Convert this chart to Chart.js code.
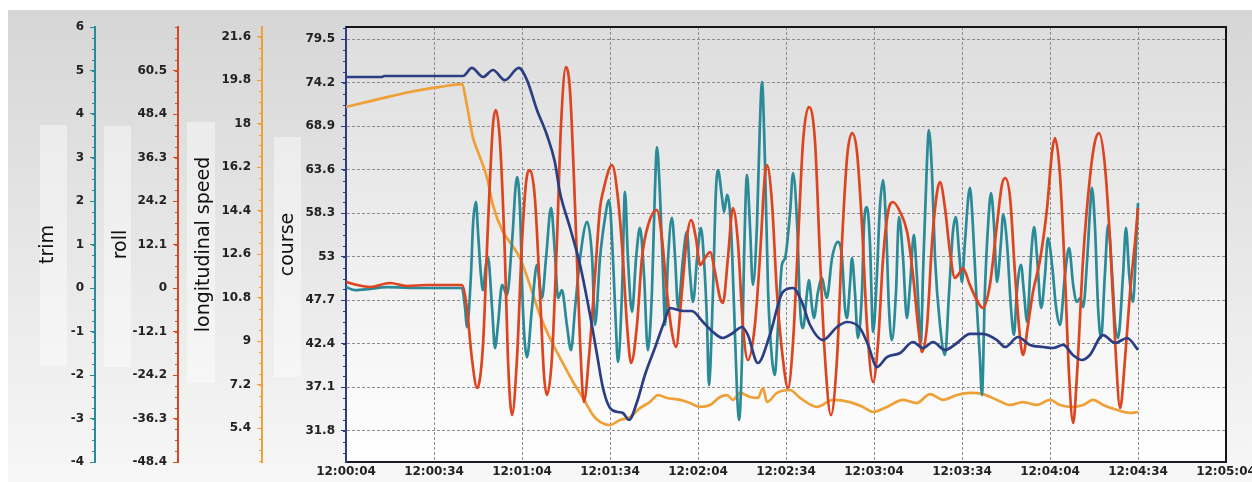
<!DOCTYPE html>
<html>
<head>
<meta charset="utf-8">
<script src="https://cdn.jsdelivr.net/npm/chart.js@4.4.1/dist/chart.umd.min.js"></script>
<style>
  html, body { margin: 0; padding: 0; background: #fff; }
  #wrap { width: 1252px; height: 482px; }
</style>
</head>
<body>
<div id="wrap"><canvas id="shipChart" width="1252" height="482"></canvas></div>
<script>
// Series: [seconds after 12:00:00, value]
const trimPoints = [[4.0,0.02],[7.1,-0.05],[12.2,-0.02],[18.0,0.02],[29.2,0.0],[43.5,0.0],[44.6,-0.46],[45.2,-0.9],[46.6,0.3],[47.3,1.45],[48.3,1.98],[49.0,1.29],[50.0,0.3],[50.7,-0.05],[51.7,0.53],[52.4,0.71],[53.8,-0.46],[54.8,-1.38],[55.8,-0.85],[57.2,0.07],[58.9,-0.16],[60.6,1.06],[62.3,2.55],[63.3,1.84],[64.3,-0.46],[65.7,-1.59],[67.4,-0.46],[69.1,0.53],[70.8,-0.23],[72.2,0.69],[73.9,1.84],[75.2,0.83],[76.3,-0.23],[77.6,-0.05],[79.3,-0.85],[80.7,-1.43],[82.1,-0.46],[83.8,0.69],[86.2,1.52],[87.9,0.69],[88.9,-0.85],[90.6,0.69],[92.3,1.61],[93.7,2.02],[95.0,0.69],[96.0,-0.85],[96.7,-1.7],[98.1,-0.09],[99.1,2.21],[100.1,0.69],[101.5,-0.55],[102.9,0.69],[104.2,1.38],[105.6,0.3],[106.9,-1.43],[108.3,-0.09],[109.3,2.21],[110.0,3.24],[111.0,2.21],[112.1,0.3],[112.8,-0.85],[113.8,0.69],[115.1,1.61],[116.2,0.69],[117.2,-0.46],[118.9,0.69],[120.2,1.29],[121.3,0.3],[122.3,-0.32],[123.7,0.69],[125.0,1.38],[126.0,0.69],[127.1,-0.85],[127.7,-2.23],[129.1,-0.09],[130.1,2.21],[130.8,2.71],[132.2,2.07],[132.9,1.75],[133.9,2.14],[135.2,1.45],[136.3,-0.46],[137.3,-2.39],[138.0,-3.03],[139.0,-1.61],[139.7,0.69],[140.7,2.6],[141.7,1.45],[142.7,0.07],[144.1,1.45],[145.1,3.75],[145.8,4.74],[146.8,2.99],[147.9,-0.09],[149.2,-1.61],[150.2,-2.0],[151.3,-0.85],[152.6,0.53],[153.7,0.69],[155.4,1.75],[156.4,2.64],[157.8,1.45],[158.8,-0.46],[159.8,-0.92],[161.2,-0.09],[161.8,0.18],[162.9,-0.46],[163.5,-0.69],[164.9,-0.09],[166.3,0.23],[167.3,-0.09],[167.9,-0.23],[169.7,0.69],[171.7,1.06],[173.1,0.69],[174.1,-0.46],[174.8,-0.69],[175.8,0.07],[176.5,0.69],[177.5,-0.09],[178.5,-1.15],[179.9,-0.09],[180.6,1.45],[181.6,1.86],[182.6,1.06],[183.7,-1.01],[185.0,0.3],[186.0,1.84],[187.1,2.48],[188.1,1.45],[189.1,-0.46],[190.1,-1.2],[191.5,-0.09],[192.5,1.63],[193.9,0.69],[195.2,-0.69],[196.3,0.07],[197.6,1.22],[198.6,0.3],[200.0,-1.24],[200.7,0.3],[202.1,2.99],[202.7,3.63],[203.8,2.6],[204.8,0.69],[206.5,-0.85],[208.2,-1.54],[209.6,-0.09],[210.9,1.29],[211.9,1.63],[213.0,0.83],[214.0,0.14],[215.0,1.06],[216.7,2.3],[217.7,1.45],[219.1,-0.46],[220.1,-1.61],[220.8,-2.46],[221.8,-0.09],[222.9,1.45],[223.9,2.18],[224.9,1.45],[225.9,0.14],[227.3,1.06],[228.0,1.68],[229.3,1.06],[230.7,-0.46],[231.7,-1.08],[232.7,-0.09],[234.1,0.53],[235.1,-0.09],[236.2,-0.78],[237.5,0.69],[238.6,1.4],[239.6,0.69],[241.0,-0.46],[242.3,0.3],[243.3,1.15],[244.7,0.53],[246.1,-0.46],[247.4,-0.85],[249.1,0.3],[250.5,0.92],[251.9,0.07],[253.2,-0.32],[254.3,-0.23],[255.3,-0.44],[256.7,0.69],[257.7,1.84],[258.3,2.3],[259.3,1.45],[260.4,-0.46],[261.4,-1.15],[262.7,0.3],[263.8,1.45],[265.2,0.3],[266.2,-0.85],[267.2,-1.15],[268.9,0.3],[269.9,1.38],[271.0,0.3],[272.3,-0.32],[273.4,1.06],[274.0,1.95]];

const rollPoints = [[4.0,1.7],[7.8,0.83],[12.2,0.28],[19.0,1.39],[24.8,0.56],[31.6,0.83],[36.0,0.83],[43.5,0.83],[45.2,-5.56],[46.9,-19.47],[48.7,-27.82],[50.7,-15.86],[52.4,17.52],[54.1,45.34],[55.1,49.51],[56.5,40.61],[58.2,8.34],[59.2,-19.47],[60.6,-35.33],[62.3,-19.47],[64.0,12.8],[65.4,29.48],[66.7,32.82],[68.4,25.03],[70.1,-1.11],[71.5,-24.2],[72.5,-29.76],[74.2,-19.47],[75.9,12.8],[77.3,45.34],[79.0,61.47],[80.4,54.52],[82.1,22.25],[83.8,-15.02],[85.1,-31.71],[86.8,-19.47],[88.9,3.62],[90.6,22.25],[91.6,26.7],[94.7,34.21],[96.7,25.03],[98.4,8.34],[99.8,-10.29],[101.2,-20.86],[103.2,-10.29],[104.9,8.34],[107.0,17.52],[110.0,21.7],[111.7,13.91],[113.4,-1.11],[115.1,-12.24],[116.5,-16.41],[118.5,-1.11],[120.2,13.91],[121.6,18.91],[123.3,13.91],[124.7,6.4],[126.4,8.34],[128.1,10.01],[129.8,4.45],[131.5,-2.78],[132.5,-4.17],[134.2,8.34],[135.9,22.25],[137.6,12.8],[139.3,-10.29],[141.0,-20.03],[143.4,-10.29],[145.1,8.34],[146.8,31.43],[147.5,34.21],[149.2,23.92],[150.9,-1.11],[152.9,-19.47],[154.7,-27.82],[156.4,-15.02],[158.1,12.8],[159.8,40.61],[161.8,50.35],[163.9,40.61],[165.6,8.34],[167.3,-19.47],[169.3,-35.33],[171.4,-19.47],[173.1,12.8],[174.8,36.16],[176.5,43.11],[178.2,37.83],[179.9,17.52],[181.6,-10.29],[183.7,-26.15],[185.4,-15.02],[187.1,8.34],[188.8,21.14],[190.5,23.92],[192.9,21.14],[195.3,15.58],[197.3,3.62],[199.0,-10.29],[200.4,-17.8],[202.1,-10.29],[203.8,12.8],[205.5,26.7],[206.5,29.48],[208.2,22.25],[209.9,10.01],[211.6,2.78],[213.3,4.45],[214.3,5.56],[216.7,0.83],[219.4,-3.89],[221.1,-5.56],[223.5,0.83],[225.9,17.52],[227.6,28.65],[228.7,30.6],[230.4,25.03],[232.1,3.62],[233.8,-13.91],[234.8,-18.64],[236.5,-10.29],[238.2,-1.11],[240.6,7.79],[243.0,22.25],[244.7,37.83],[245.7,41.72],[247.4,31.43],[249.1,3.62],[250.5,-24.2],[251.9,-37.55],[253.2,-24.2],[255.3,8.34],[257.7,31.43],[259.3,40.61],[260.7,43.11],[262.7,34.21],[264.5,12.8],[266.2,-15.02],[267.9,-33.38],[269.6,-19.47],[271.3,-1.11],[273.0,12.8],[274.0,22.25]];

const speedPoints = [[4.0,18.69],[11.2,18.9],[18.0,19.1],[25.8,19.31],[33.7,19.48],[36.0,19.52],[43.5,19.64],[45.2,18.77],[47.3,17.41],[49.0,16.83],[52.1,15.75],[54.1,14.63],[57.5,13.52],[60.6,12.98],[63.3,12.44],[66.7,11.32],[70.1,10.08],[73.5,9.13],[77.0,8.3],[81.4,7.31],[84.8,6.65],[88.2,5.94],[90.6,5.66],[94.0,5.53],[97.4,5.74],[100.8,5.86],[104.2,6.23],[107.6,6.48],[110.4,6.77],[113.4,6.65],[117.9,6.57],[121.3,6.44],[124.7,6.28],[128.1,6.36],[131.5,6.69],[133.9,6.77],[135.9,6.57],[138.3,6.86],[141.7,6.69],[144.4,6.65],[146.2,7.06],[147.5,6.48],[150.9,6.86],[155.4,6.98],[158.8,6.65],[164.6,6.28],[170.0,6.57],[175.8,6.48],[180.2,6.28],[183.7,6.07],[188.4,6.28],[193.9,6.57],[198.6,6.44],[203.1,6.81],[207.5,6.57],[212.3,6.77],[216.7,6.86],[221.1,6.81],[225.9,6.57],[230.4,6.36],[234.8,6.48],[239.6,6.36],[244.0,6.57],[247.4,6.36],[251.8,6.28],[255.3,6.36],[258.7,6.57],[262.1,6.36],[266.9,6.15],[271.3,6.03],[274.0,6.07]];

const coursePoints = [[4.0,74.91],[16.3,74.91],[17.0,75.03],[43.9,75.03],[46.9,76.01],[50.7,74.91],[54.1,75.76],[58.2,74.53],[62.9,76.01],[65.7,74.53],[69.1,70.89],[72.5,67.84],[75.2,64.55],[76.9,60.9],[80.4,56.51],[83.8,52.0],[87.2,45.91],[89.6,41.04],[91.6,37.02],[94.0,34.58],[96.7,34.09],[98.4,33.97],[100.5,33.12],[103.2,35.31],[105.9,38.6],[109.3,41.89],[112.1,44.69],[114.5,46.76],[118.9,46.4],[121.9,46.4],[125.7,45.06],[129.1,43.84],[132.5,43.11],[135.9,43.72],[139.0,44.45],[141.0,43.47],[144.4,40.06],[148.5,43.47],[152.9,48.71],[156.4,49.2],[159.4,47.49],[162.2,44.69],[166.6,42.86],[171.4,44.45],[174.8,45.06],[179.2,44.33],[182.0,42.26],[185.0,39.57],[188.4,40.79],[192.9,41.28],[197.3,42.62],[200.7,41.89],[204.1,42.62],[208.2,41.65],[212.3,42.5],[216.7,43.6],[221.1,43.6],[225.9,42.86],[228.7,42.01],[233.1,43.23],[237.2,42.26],[241.7,42.01],[245.0,41.89],[248.5,42.26],[251.8,41.04],[254.9,40.43],[257.6,41.04],[262.1,43.47],[266.2,42.5],[270.3,43.11],[274.0,41.65]];

// Tick values / labels
const trimTicks = [-4, -3, -2, -1, 0, 1, 2, 3, 4, 5, 6];
const rollTicks = [-48.4, -36.3, -24.2, -12.1, 0, 12.1, 24.2, 36.3, 48.4, 60.5];
const speedTicks = [5.4, 7.2, 9, 10.8, 12.6, 14.4, 16.2, 18, 19.8, 21.6];
const courseTicks = [31.8, 37.1, 42.4, 47.7, 53, 58.3, 63.6, 68.9, 74.2, 79.5];
const timeTicks = [4, 34, 64, 94, 124, 154, 184, 214, 244, 274, 304];
const timeLabels = ["12:00:04", "12:00:34", "12:01:04", "12:01:34", "12:02:04", "12:02:34",
  "12:03:04", "12:03:34", "12:04:04", "12:04:34", "12:05:04"];

const toXY = (pts) => pts.map(p => ({ x: p[0], y: p[1] }));

Chart.defaults.font.family = "'DejaVu Sans', Verdana, sans-serif";

const COLORS = {
  trim: "#2a8a97",
  roll: "#dd4420",
  speed: "#efa036",
  course: "#2c3e83",
};

// fondo gris, recuadros de titulos, marco y ticks menores
const decor = {
  id: "decor",
  beforeDraw(chart) {
    const { ctx, chartArea: a, width, height } = chart;
    ctx.save();
    ctx.fillStyle = "#ffffff";
    ctx.fillRect(0, 0, width, height);
    let g = ctx.createLinearGradient(0, 10, 0, height);
    g.addColorStop(0, "#d6d6d6");
    g.addColorStop(1, "#f7f7f7");
    ctx.fillStyle = g;
    ctx.fillRect(8, 10, width - 8, height - 10);

    ctx.fillStyle = "rgba(255,255,255,0.42)";
    [[40, 125, 27, 240], [104, 126, 27, 241], [187, 122, 28, 261], [274, 137, 27, 240]]
      .forEach(b => ctx.fillRect(b[0], b[1], b[2], b[3]));

    g = ctx.createLinearGradient(0, a.top, 0, a.bottom);
    g.addColorStop(0, "#dddddd");
    g.addColorStop(1, "#ffffff");
    ctx.fillStyle = g;
    ctx.fillRect(a.left, a.top, a.right - a.left, a.bottom - a.top);
    ctx.restore();
  },
  afterDraw(chart) {
    const { ctx, chartArea: a } = chart;
    ctx.save();
    ctx.lineWidth = 1;
    ["trim", "roll", "speed", "course"].forEach(id => {
      const s = chart.scales[id];
      const step = s.ticks[1].value - s.ticks[0].value;
      const minor = step / 4;
      let v = s.ticks[0].value;
      while (v - minor >= s.min - 1e-6) v -= minor;
      ctx.beginPath();
      ctx.strokeStyle = COLORS[id];
      for (; v <= s.max + 1e-6; v += minor) {
        const y = Math.round(s.getPixelForValue(v)) + 0.5;
        ctx.moveTo(s.right - 3, y);
        ctx.lineTo(s.right, y);
      }
      ctx.stroke();
    });
    // marco superior y derecho
    ctx.strokeStyle = "#151515";
    ctx.lineWidth = 2;
    ctx.beginPath();
    ctx.moveTo(a.left, a.top);
    ctx.lineTo(a.right, a.top);
    ctx.lineTo(a.right, a.bottom);
    ctx.stroke();
    ctx.restore();
  }
};

function sideAxis(id, title, ticks, min, max, weight, width, onChart) {
  return {
    type: "linear",
    position: "left",
    weight: weight,
    min: min,
    max: max,
    afterBuildTicks: (axis) => { axis.ticks = ticks.map(v => ({ value: v })); },
    afterFit: (axis) => { axis.width = width; axis.paddingTop = 0; axis.paddingBottom = 0; },
    ticks: {
      autoSkip: false,
      padding: 6,
      color: "#222222",
      font: { size: 12, weight: "bold" },
      callback: (v) => `${v}`,
    },
    grid: onChart
      ? { drawOnChartArea: true, color: "#8c8c8c", tickColor: COLORS[id], tickLength: 5, lineWidth: 1 }
      : { drawOnChartArea: false, color: COLORS[id], tickLength: 5, lineWidth: 1 },
    border: { color: COLORS[id], width: 2, dash: onChart ? [3, 2] : [] },
    title: {
      display: true,
      text: title,
      color: "#111111",
      font: { size: 19, weight: "normal" },
      padding: { top: 15, bottom: 0 },
    },
  };
}

const ctx = document.getElementById("shipChart").getContext("2d");
const shipChart = new Chart(ctx, {
  type: "line",
  data: {
    datasets: [
      { label: "course", data: toXY(coursePoints), yAxisID: "course", borderColor: COLORS.course },
      { label: "roll", data: toXY(rollPoints), yAxisID: "roll", borderColor: COLORS.roll },
      { label: "trim", data: toXY(trimPoints), yAxisID: "trim", borderColor: COLORS.trim },
      { label: "longitudinal speed", data: toXY(speedPoints), yAxisID: "speed", borderColor: COLORS.speed },
    ],
  },
  options: {
    responsive: false,
    animation: false,
    layout: { padding: { left: 22, right: 26, top: 27, bottom: 0 } },
    elements: {
      point: { radius: 0 },
      line: { borderWidth: 2.7, tension: 0.4, cubicInterpolationMode: "monotone", fill: false },
    },
    plugins: { legend: { display: false }, tooltip: { enabled: false } },
    scales: {
      x: {
        type: "linear",
        position: "bottom",
        min: 4,
        max: 304,
        afterBuildTicks: (axis) => { axis.ticks = timeTicks.map(v => ({ value: v })); },
        afterFit: (axis) => { axis.height = 20; axis.paddingLeft = 0; axis.paddingRight = 0; },
        ticks: {
          autoSkip: false,
          maxRotation: 0,
          padding: 3,
          color: "#222222",
          font: { size: 12, weight: "bold" },
          callback: (v, i) => timeLabels[i],
        },
        grid: { color: "#8c8c8c", drawTicks: false, lineWidth: 1 },
        border: { color: "#1a1d2c", width: 2, dash: [3, 2] },
      },
      course: sideAxis("course", "course", courseTicks, 28, 81, 1, 84, true),
      speed: sideAxis("speed", "longitudinal speed", speedTicks, 4, 22, 2, 84, false),
      roll: sideAxis("roll", "roll", rollTicks, -48.4, 72.6, 3, 83, false),
      trim: sideAxis("trim", "trim", trimTicks, -4, 6, 4, 73, false),
    },
  },
  plugins: [decor],
});
</script>
</body>
</html>
